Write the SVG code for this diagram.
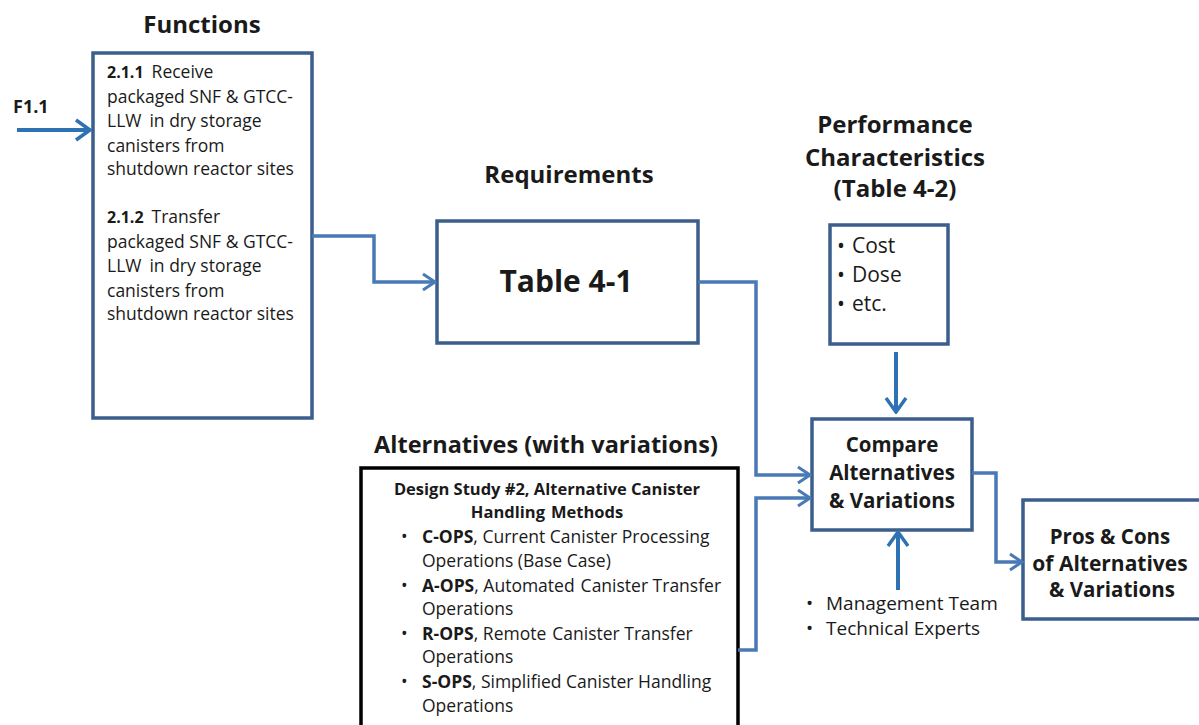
<svg xmlns="http://www.w3.org/2000/svg" width="1199" height="725" viewBox="0 0 1199 725">
  <style>
    text { font-family: "Open Sans", Lato, "Liberation Sans", sans-serif; fill: #1a1a1a; }
    .title { font-size: 24px; font-weight: bold; }
    .body { font-size: 17.5px; }
    .item { font-size: 17.5px; }
    .b { font-weight: bold; }
    .mid { text-anchor: middle; }
    .box { fill: #ffffff; stroke: #3b5e8c; stroke-width: 3.5; }
    .altbox { fill: #ffffff; stroke: #000000; stroke-width: 3.5; }
    .conn { fill: none; stroke: #4a7ab5; stroke-width: 3.5; }
    .feed { fill: none; stroke: #2e72b4; stroke-width: 4; }
  </style>
  <defs>
    <marker id="headLight" viewBox="0 0 16 20" refX="14" refY="10" markerWidth="16" markerHeight="20" markerUnits="userSpaceOnUse" orient="auto">
      <path d="M2,2 L14,10 L2,18" fill="none" stroke="#4a7ab5" stroke-width="3" stroke-linejoin="miter"/>
    </marker>
    <marker id="headDark" viewBox="0 0 18 24" refX="16" refY="12" markerWidth="18" markerHeight="24" markerUnits="userSpaceOnUse" orient="auto">
      <path d="M2,2 L16,12 L2,22" fill="none" stroke="#2e72b4" stroke-width="3.5" stroke-linejoin="miter"/>
    </marker>
  </defs>
  <rect width="1199" height="725" fill="#ffffff"/>

  <!-- input label -->
  <g id="input-f11">
    <text x="13" y="113" font-size="18" class="b">F1.1</text>
  </g>

  <!-- functions -->
  <g id="functions">
    <text x="202" y="33" class="title mid">Functions</text>
    <rect class="box" x="93" y="53" width="219" height="365"/>
    <text class="body" x="107" y="78"><tspan class="b" font-size="16">2.1.1</tspan><tspan dx="8">Receive</tspan></text>
    <text class="body" x="107" y="103">packaged SNF &amp; GTCC-</text>
    <text class="body" x="107" y="127">LLW<tspan dx="8">in dry storage</tspan></text>
    <text class="body" x="107" y="152">canisters from</text>
    <text class="body" x="107" y="175">shutdown reactor sites</text>
    <text class="body" x="107" y="223"><tspan class="b" font-size="16">2.1.2</tspan><tspan dx="8">Transfer</tspan></text>
    <text class="body" x="107" y="248">packaged SNF &amp; GTCC-</text>
    <text class="body" x="107" y="272">LLW<tspan dx="8">in dry storage</tspan></text>
    <text class="body" x="107" y="297">canisters from</text>
    <text class="body" x="107" y="320">shutdown reactor sites</text>
  </g>

  <!-- requirements -->
  <g id="requirements">
    <text x="569" y="183" class="title mid">Requirements</text>
    <rect class="box" x="437" y="221" width="261" height="122"/>
    <text x="566" y="292" font-size="30" class="b mid">Table 4-1</text>
  </g>

  <!-- performance characteristics -->
  <g id="performance">
    <text x="895" y="133" class="title mid">Performance</text>
    <text x="895" y="166" class="title mid">Characteristics</text>
    <text x="895" y="197" class="title mid">(Table 4-2)</text>
    <rect class="box" x="830" y="225" width="118" height="119"/>
    <text x="837" y="253" font-size="21">•<tspan x="852">Cost</tspan></text>
    <text x="837" y="282" font-size="21">•<tspan x="852">Dose</tspan></text>
    <text x="837" y="311" font-size="21">•<tspan x="852">etc.</tspan></text>
  </g>

  <!-- compare -->
  <g id="compare">
    <rect class="box" x="812" y="419" width="160" height="111"/>
    <text x="892" y="452" font-size="20.5" class="b mid">Compare</text>
    <text x="892" y="480" font-size="20.5" class="b mid">Alternatives</text>
    <text x="892" y="508" font-size="20.5" class="b mid">&amp; Variations</text>
  </g>

  <!-- reviewers -->
  <g id="reviewers">
    <text x="806" y="610" font-size="19">•<tspan x="826">Management Team</tspan></text>
    <text x="806" y="635" font-size="19">•<tspan x="826">Technical Experts</tspan></text>
  </g>

  <!-- pros and cons -->
  <g id="pros-cons">
    <rect class="box" x="1023" y="500" width="182" height="119"/>
    <text x="1110" y="544" font-size="20.5" class="b mid">Pros &amp; Cons</text>
    <text x="1110" y="571" font-size="21" class="b mid">of Alternatives</text>
    <text x="1112" y="597" font-size="20.5" class="b mid">&amp; Variations</text>
  </g>

  <!-- alternatives -->
  <g id="alternatives">
    <text x="546" y="453" font-size="23.5" class="b mid">Alternatives (with variations)</text>
    <rect class="altbox" x="361" y="468" width="377" height="270"/>
    <text x="547" y="495" font-size="16.5" class="b mid">Design Study #2, Alternative Canister</text>
    <text x="547" y="518" font-size="16.5" class="b mid">Handling<tspan dx="6">Methods</tspan></text>
    <text class="item" x="401" y="543">•</text>
    <text class="item" x="422" y="543"><tspan class="b">C-OPS</tspan>, Current Canister Processing</text>
    <text class="item" x="422" y="567">Operations (Base Case)</text>
    <text class="item" x="401" y="592">•</text>
    <text class="item" x="422" y="592"><tspan class="b">A-OPS</tspan>, Automated<tspan dx="6">Canister Transfer</tspan></text>
    <text class="item" x="422" y="615">Operations</text>
    <text class="item" x="401" y="640">•</text>
    <text class="item" x="422" y="640"><tspan class="b">R-OPS</tspan>, Remote<tspan dx="6">Canister Transfer</tspan></text>
    <text class="item" x="422" y="663">Operations</text>
    <text class="item" x="401" y="688">•</text>
    <text class="item" x="422" y="688"><tspan class="b">S-OPS</tspan>, Simplified Canister Handling</text>
    <text class="item" x="422" y="712">Operations</text>
  </g>

  <!-- connectors -->
  <g id="connectors">
    <path class="feed" d="M17,130 L90,130" marker-end="url(#headDark)"/>
    <path class="conn" d="M312,236 L374,236 L374,282 L435,282" marker-end="url(#headLight)"/>
    <path class="conn" d="M698,282 L756,282 L756,475 L810,475" marker-end="url(#headLight)"/>
    <path class="conn" d="M738,650 L756,650 L756,498 L810,498" marker-end="url(#headLight)"/>
    <path class="feed" d="M896,352 L896,412" marker-end="url(#headDark)"/>
    <path class="feed" d="M898,590 L898,532" marker-end="url(#headDark)"/>
    <path class="conn" d="M972,473 L996,473 L996,562 L1022,562" marker-end="url(#headLight)"/>
  </g>
</svg>
